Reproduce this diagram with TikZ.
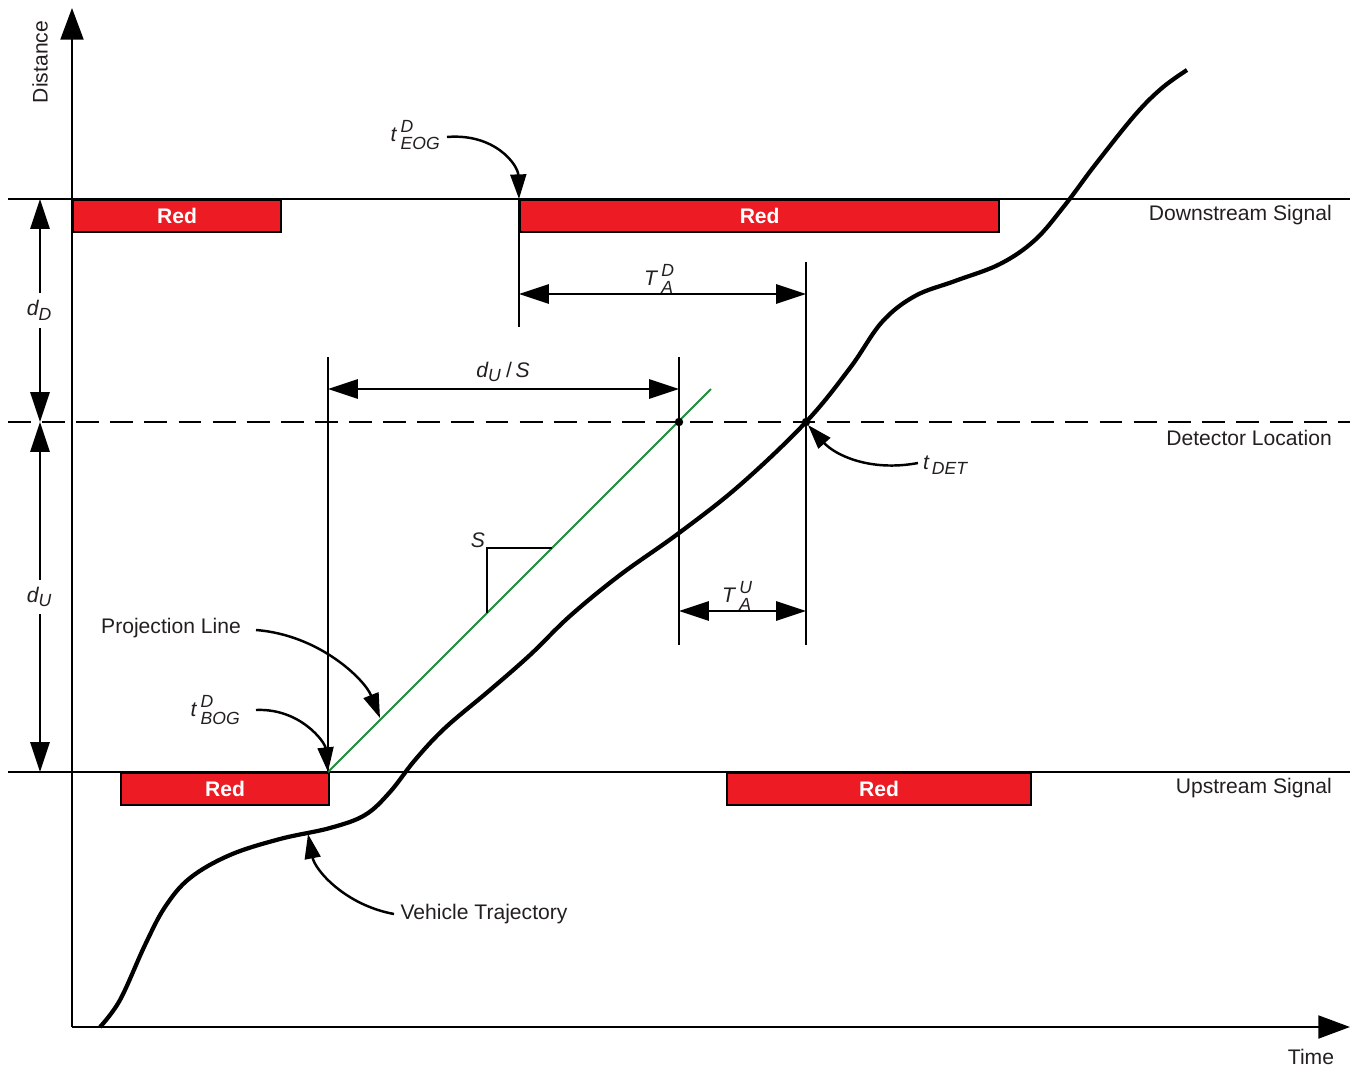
\documentclass[tikz,border=0pt]{standalone}
\usepackage{amsmath}
\usepackage{fontspec}
\setmainfont{Liberation Sans}
\usetikzlibrary{arrows.meta,calc}
\definecolor{signalred}{HTML}{ED1C24}
\definecolor{projgreen}{HTML}{1E8C3A}
\definecolor{labelgray}{HTML}{231F20}
\newcommand{\tlabel}[3]{$\textit{#1}\kern1.2pt^{\textit{#2}}_{\textit{#3}}$}

\tikzset{
  thinline/.style={line width=0.5pt},
  axisarrow/.style={line width=0.7pt, -{Triangle[length=9pt,width=6.5pt]}},
  dimarrow/.style={line width=0.5pt, {Triangle[length=8.5pt,width=5.5pt]}-{Triangle[length=8.5pt,width=5.5pt]}},
  callout/.style={line width=0.7pt, -{Triangle[length=7pt,width=4.5pt]}},
  redbar/.style={draw, line width=0.6pt, fill=signalred, text=white, font=\fontsize{6}{7}\selectfont\bfseries,
    minimum height=0.32cm, anchor=north west, inner sep=0pt},
  trajectory/.style={line width=1.2pt, line join=round},
  lbl/.style={text=labelgray, inner sep=1pt}
}

\begin{document}
\begin{tikzpicture}[x=0.01cm,y=-0.01cm,font=\fontsize{6}{7.2}\selectfont]
\useasboundingbox (0,0) rectangle (1356,1066);

% axes
\coordinate (O) at (72,1027);
\coordinate (ytip) at (72,8);
\coordinate (xtip) at (1350,1027);
\draw[axisarrow] (O) -- (ytip);
\draw[axisarrow] (O) -- (xtip);
\node[lbl, rotate=90] (distance) at (40,62) {Distance};
\node[lbl] (time) at (1311,1057) {Time};

% signal and detector lines
\coordinate (dsL) at (8,199);   \coordinate (dsR) at (1350,199);
\coordinate (detL) at (8,422);  \coordinate (detR) at (1350,422);
\coordinate (usL) at (8,772);   \coordinate (usR) at (1350,772);
\draw[thinline] (dsL) -- (dsR);
\draw[thinline, dash pattern=on 6.5pt off 3.2pt] (detL) -- (detR);
\draw[thinline] (usL) -- (usR);
\node[lbl, anchor=east] (dslabel) at (1336,215) {Downstream Signal};
\node[lbl, anchor=east] (detlabel) at (1336,438) {Detector Location};
\node[lbl, anchor=east] (uslabel) at (1336,788) {Upstream Signal};

% red phases
\node[redbar, minimum width=2.08cm] (dsred1) at (72,199) {Red};
\node[redbar, minimum width=4.79cm] (dsred2) at (519,199) {Red};
\node[redbar, minimum width=2.08cm] (usred1) at (120,772) {Red};
\node[redbar, minimum width=3.04cm] (usred2) at (726,772) {Red};

% guide lines
\coordinate (eog) at (519,199);
\coordinate (bog) at (328,772);
\coordinate (pdet) at (679,422);
\coordinate (tdet) at (806,422);
\draw[thinline] (eog) -- (519,327);
\draw[thinline] (806,262) -- (806,645);
\draw[thinline] (679,357) -- (679,645);
\draw[thinline] (328,357) -- (bog);

% dimensions
\draw[dimarrow] (519,294) -- (806,294);
\node[lbl] (TAD) at (660,279) {\tlabel{T}{D}{A}};
\draw[dimarrow] (328,389) -- (679,389);
\node[lbl] (duS) at (503,372) {$\textit{d}_{\textit{U}}$\,/\,\textit{S}};
\draw[dimarrow] (679,611) -- (806,611);
\node[lbl] (TAU) at (738,596) {\tlabel{T}{U}{A}};
\draw[dimarrow] (40,199) -- node[lbl, fill=white, inner sep=2pt] (dD) {$\textit{d}_{\textit{D}}$} (40,422);
\draw[dimarrow] (40,422) -- node[lbl, fill=white, inner sep=2pt] (dU) {$\textit{d}_{\textit{U}}$} (40,772);

% projection line
\coordinate (projend) at (711,389);
\draw[line width=0.6pt, projgreen] (bog) -- (projend);
\draw[thinline] (487,613) -- (487,548) -- (552,548);
\node[lbl] (slope) at (478,540) {\textit{S}};

% vehicle trajectory
\draw[trajectory] plot[smooth, tension=0.6] coordinates {
  (100,1027) (120,1000) (145,945) (165,907) (190,878) (230,855) (280,839)
  (330,828) (365,815) (390,792) (415,760) (445,728) (490,690) (530,655)
  (570,616) (620,575) (679,533) (740,485) (806,422) (850,368) (882,322)
  (915,296) (955,281) (1000,264) (1035,240) (1065,205) (1095,165)
  (1135,115) (1162,88) (1187,70)};
\fill (pdet) circle[radius=1.2pt];
\fill (tdet) circle[radius=1.2pt];

% callouts
\node[lbl] (lblEOG) at (416,135) {\tlabel{t}{D}{EOG}};
\draw[callout] (447,137) .. controls +(48,-4) and +(-1,-34) .. (eog);
\node[lbl] (lblDET) at (946,465) {$\textit{t}\kern0.8pt_{\textit{DET}}$};
\coordinate (detfrom) at (918,463);
\draw[callout] (detfrom) .. controls +(-48,9) and +(27,30) .. (808,425);
\node[lbl] (lblProj) at (171,628) {Projection Line};
\coordinate (projhit) at (380,718);
\draw[callout] (256,630) .. controls +(64,5) and +(-15,-38) .. (projhit);
\node[lbl] (lblBOG) at (216,710) {\tlabel{t}{D}{BOG}};
\draw[callout] (256,710) .. controls +(44,-2) and +(-3,-30) .. (bog);
\node[lbl] (lblVeh) at (484,914) {Vehicle Trajectory};
\coordinate (vehhit) at (308,834);
\draw[callout] (394,914) .. controls +(-49,-9) and +(7,36) .. (vehhit);
\end{tikzpicture}
\end{document}
